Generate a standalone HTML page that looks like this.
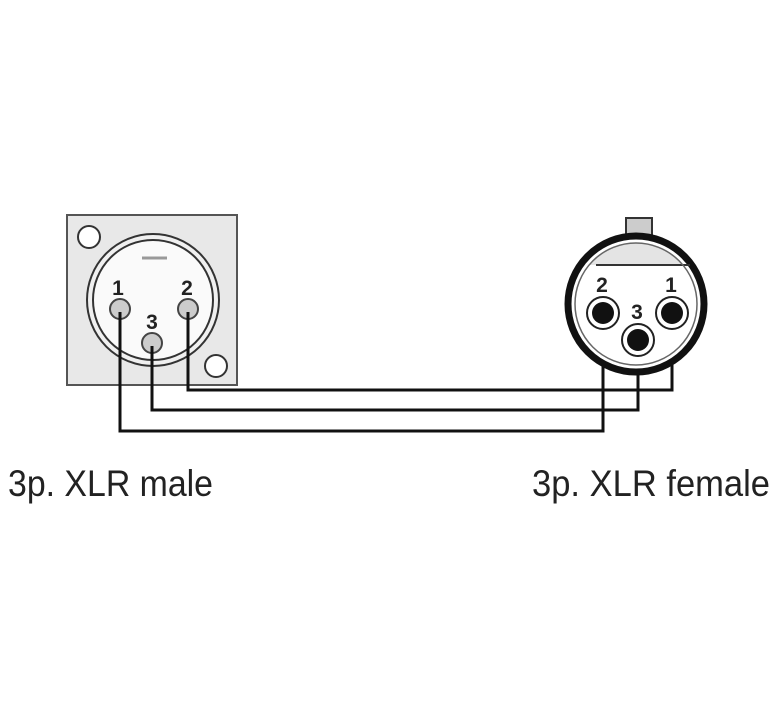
<!DOCTYPE html>
<html><head><style>html,body{margin:0;padding:0;background:#fff;}svg{display:block}</style></head>
<body>
<svg width="774" height="708" viewBox="0 0 774 708" xmlns="http://www.w3.org/2000/svg">
<rect x="0" y="0" width="774" height="708" fill="#fff"/>
<!-- male -->
<rect x="67" y="215" width="170" height="170" fill="#e8e8e8" stroke="#555" stroke-width="2"/>
<circle cx="89" cy="237" r="11" fill="#fff" stroke="#333" stroke-width="2"/>
<circle cx="216" cy="366" r="11" fill="#fff" stroke="#333" stroke-width="2"/>
<circle cx="153" cy="300" r="66" fill="#f0f0f0" stroke="#333" stroke-width="2"/>
<circle cx="153" cy="300" r="60" fill="#fafafa" stroke="#333" stroke-width="2"/>
<line x1="142" y1="258" x2="167" y2="258" stroke="#999" stroke-width="3"/>
<circle cx="120" cy="309" r="10" fill="#ccc" stroke="#444" stroke-width="2"/>
<circle cx="188" cy="309" r="10" fill="#ccc" stroke="#444" stroke-width="2"/>
<circle cx="152" cy="343" r="10" fill="#ccc" stroke="#444" stroke-width="2"/>
<g font-family="Liberation Sans, sans-serif" font-weight="bold" font-size="21" fill="#222" text-anchor="middle">
<text x="118" y="295">1</text><text x="187" y="295">2</text><text x="152" y="329">3</text>
</g>
<!-- wires -->
<g fill="none" stroke="#111" stroke-width="3">
<polyline points="188,312 188,390 672,390 672,315"/>
<polyline points="152,346 152,410 638,410 638,342"/>
<polyline points="120,312 120,431 603,431 603,315"/>
</g>
<!-- female -->
<rect x="626" y="218" width="26" height="22" fill="#ccc" stroke="#333" stroke-width="2"/>
<circle cx="636" cy="304" r="68" fill="#fff" stroke="#111" stroke-width="7"/>
<path d="M589,265 A61,61 0 0 1 683,265 Z" fill="#e4e4e4"/>
<path d="M596,265 L690,265" stroke="#333" stroke-width="2"/>
<circle cx="636" cy="304" r="61" fill="none" stroke="#666" stroke-width="1.5"/>
<circle cx="603" cy="313" r="16" fill="#fff" stroke="#222" stroke-width="2"/>
<circle cx="603" cy="313" r="11" fill="#111"/>
<circle cx="672" cy="313" r="16" fill="#fff" stroke="#222" stroke-width="2"/>
<circle cx="672" cy="313" r="11" fill="#111"/>
<circle cx="638" cy="340" r="16" fill="#fff" stroke="#222" stroke-width="2"/>
<circle cx="638" cy="340" r="11" fill="#111"/>
<g font-family="Liberation Sans, sans-serif" font-weight="bold" font-size="21" fill="#222" text-anchor="middle">
<text x="602" y="292">2</text><text x="671" y="292">1</text><text x="637" y="319">3</text>
</g>
<g font-family="Liberation Sans, sans-serif" font-size="37" fill="#222">
<text x="8" y="496" textLength="205" lengthAdjust="spacingAndGlyphs">3p. XLR male</text>
<text x="532" y="496" textLength="238" lengthAdjust="spacingAndGlyphs">3p. XLR female</text>
</g>
</svg>
</body></html>
